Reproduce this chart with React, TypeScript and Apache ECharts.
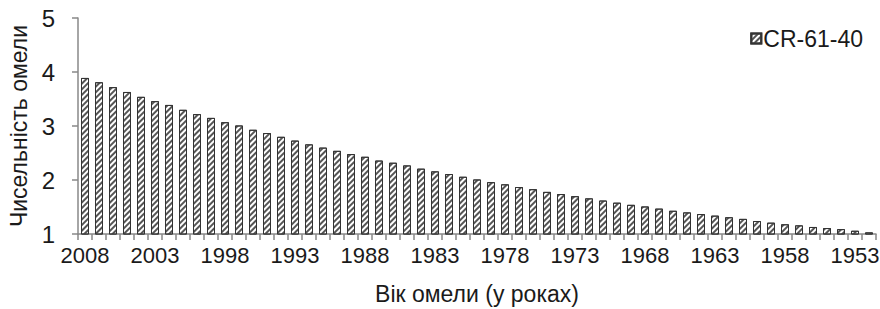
import React, { useEffect, useRef } from "react";
import * as echarts from "echarts";

const years: string[] = [];
for (let y = 2008; y >= 1952; y--) years.push(String(y));

const seriesName = "CR-61-40";
const values: number[] = [
  3.89, 3.81, 3.72, 3.63, 3.54, 3.46, 3.39, 3.30, 3.22, 3.15,
  3.07, 3.01, 2.93, 2.87, 2.80, 2.73, 2.66, 2.60, 2.54, 2.48,
  2.43, 2.36, 2.32, 2.27, 2.21, 2.16, 2.11, 2.06, 2.01, 1.96,
  1.92, 1.87, 1.83, 1.78, 1.74, 1.70, 1.66, 1.62, 1.58, 1.54,
  1.51, 1.47, 1.43, 1.40, 1.37, 1.34, 1.31, 1.28, 1.24, 1.21,
  1.18, 1.16, 1.13, 1.11, 1.09, 1.06, 1.03,
];
const yTitle = "Чисельність омели";
const xTitle = "Вік омели (у роках)";

export default function App() {
  const ref = useRef<HTMLDivElement>(null);
  useEffect(() => {
    if (!ref.current) return;
    const chart = echarts.init(ref.current, undefined, { renderer: "svg" });
    const font = "'Liberation Sans', Arial, sans-serif";
    const decal = {
      symbol: "rect",
      symbolSize: 1,
      dashArrayX: [[1, 0]],
      dashArrayY: [1.4, 2.0],
      rotation: -Math.PI / 4,
      color: "#555",
      backgroundColor: "#fff",
    };
    chart.setOption({
      animation: false,
      backgroundColor: "#fff",
      textStyle: { fontFamily: font },
      grid: {
        left: 78,
        right: 4,
        top: 18,
        bottom: 75,
        containLabel: false,
        outerBoundsMode: "none",
      },
      legend: {
        right: 12,
        top: 22,
        itemWidth: 10,
        itemHeight: 10,
        itemGap: 4,
        textStyle: { fontSize: 23, color: "#1a1a1a", fontFamily: font, padding: [0, 0, 0, -3] },
        data: [{ name: seriesName, icon: "rect" }],
      },
      xAxis: {
        type: "category",
        data: years,
        name: xTitle,
        nameLocation: "middle",
        nameGap: 48,
        nameTextStyle: { fontSize: 23, color: "#1a1a1a", fontFamily: font },
        axisLine: { lineStyle: { color: "#888", width: 1.5 } },
        axisTick: { show: true, interval: 0, length: 6, lineStyle: { color: "#888", width: 1.5 } },
        axisLabel: { interval: 4, fontSize: 22, color: "#1a1a1a", margin: 10, fontFamily: font },
      },
      yAxis: {
        type: "value",
        min: 1,
        max: 5,
        interval: 1,
        name: yTitle,
        nameLocation: "middle",
        nameGap: 48,
        nameRotate: 90,
        nameTextStyle: { fontSize: 23, color: "#1a1a1a", fontFamily: font },
        splitLine: { show: false },
        axisLine: { show: true, lineStyle: { color: "#888", width: 1.5 } },
        axisTick: { show: true, length: 6, lineStyle: { color: "#888", width: 1.5 } },
        axisLabel: { fontSize: 24, color: "#1a1a1a", margin: 23, fontFamily: font },
      },
      series: [
        {
          name: seriesName,
          type: "bar",
          data: values,
          barWidth: 8,
          itemStyle: {
            color: "#fff",
            borderColor: "#333",
            borderWidth: 1,
            decal,
          },
        },
      ],
    });
    return () => chart.dispose();
  }, []);
  return (
    <div
      ref={ref}
      style={{ position: "fixed", left: 0, top: 0, width: 880, height: 309, background: "#fff" }}
    />
  );
}
